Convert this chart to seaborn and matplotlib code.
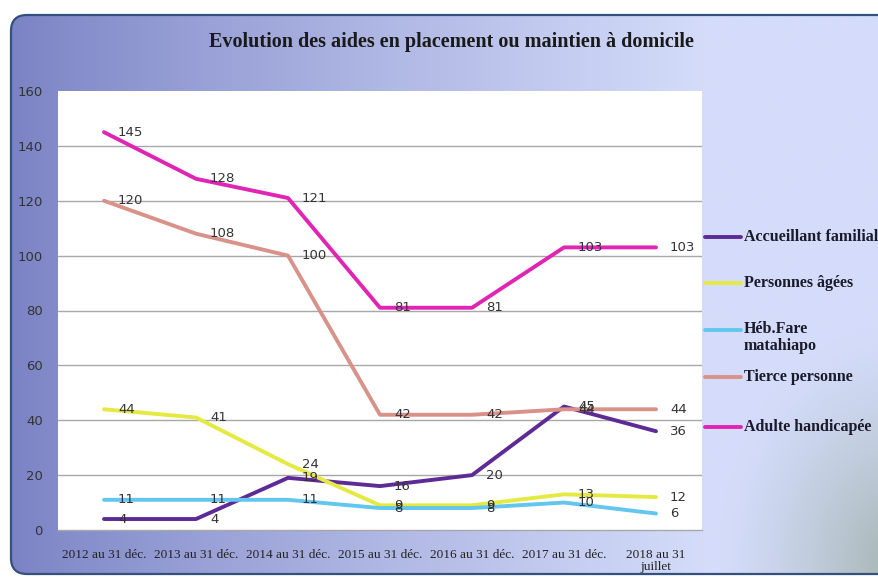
import numpy as np
import pandas as pd
import matplotlib
matplotlib.use("Agg")
import matplotlib.pyplot as plt
from matplotlib.patches import FancyBboxPatch
from matplotlib.lines import Line2D
import seaborn as sns

periods = ["2012 au 31 déc.", "2013 au 31 déc.", "2014 au 31 déc.",
           "2015 au 31 déc.", "2016 au 31 déc.", "2017 au 31 déc.",
           "2018 au 31\njuillet"]
series_names = ["Accueillant familial", "Personnes âgées", "Héb.Fare\nmatahiapo",
                "Tierce personne", "Adulte handicapée"]
accueillant = [4, 4, 19, 16, 20, 45, 36]
personnes_agees = [44, 41, 24, 9, 9, 13, 12]
heb_fare = [11, 11, 11, 8, 8, 10, 6]
tierce = [120, 108, 100, 42, 42, 44, 44]
adulte = [145, 128, 121, 81, 81, 103, 103]
y_ticks = [0, 20, 40, 60, 80, 100, 120, 140, 160]

colors = ["#5e2a96", "#e4ea42", "#62c6ee", "#d8928a", "#e024b4"]

values = [accueillant, personnes_agees, heb_fare, tierce, adulte]
df = pd.DataFrame({
    "periode": np.tile(np.arange(len(periods)), len(series_names)),
    "valeur": np.concatenate(values),
    "serie": np.repeat(series_names, len(periods)),
})

sns.set_theme(style="white")
plt.rcParams["font.family"] = ["DejaVu Sans"]

W, H = 879, 578
fig = plt.figure(figsize=(W / 100, H / 100), dpi=100)
fig.patch.set_facecolor("white")

# Background panel with a gradient fill and rounded border
bg = fig.add_axes([0, 0, 1, 1], zorder=0)
bg.set_xlim(0, W)
bg.set_ylim(H, 0)
bg.axis("off")
xx, yy = np.meshgrid(np.linspace(0, 1, 300), np.linspace(0, 1, 200))
left = np.array([122, 130, 196]) / 255
right = np.array([212, 220, 250]) / 255
t = np.clip(xx / 0.78, 0, 1) ** 0.85
img = left[None, None, :] * (1 - t[..., None]) + right[None, None, :] * t[..., None]
# darker greenish shade in the lower-right corner
d = np.sqrt(((xx - 1.0) / 0.2) ** 2 + ((yy - 0.98) / 0.42) ** 2)
w = np.clip(1 - d, 0, 1) ** 1.3 * 0.6
green = np.array([135, 155, 130]) / 255
img = img * (1 - w[..., None]) + green[None, None, :] * w[..., None]
img = np.clip(img, 0, 1)
im = bg.imshow(img, extent=[10, W + 20, 575, 14], aspect="auto", zorder=0)
frame = FancyBboxPatch((11, 15), W + 10, 559, boxstyle="round,pad=0,rounding_size=16",
                       fc="none", ec="#34507e", lw=1.6, zorder=2)
bg.add_patch(frame)
im.set_clip_path(frame)

# Plot area
x0, x1, y0, y1 = 58, 702, 91, 530
ax = fig.add_axes([x0 / W, 1 - y1 / H, (x1 - x0) / W, (y1 - y0) / H], zorder=1)
ax.set_facecolor("white")

sns.lineplot(data=df, x="periode", y="valeur", hue="serie", hue_order=series_names,
             palette=colors, linewidth=2.8, ax=ax, legend=False, zorder=3)

ax.set_xlim(-0.5, len(periods) - 0.5)
ax.set_ylim(0, 160)
ax.set_yticks(y_ticks)
for yv in y_ticks[1:-1]:
    ax.axhline(yv, color="#a8a8a8", lw=1.0, zorder=1)
for s in ["top", "right", "left"]:
    ax.spines[s].set_visible(False)
ax.spines["bottom"].set_color("#a8a8a8")
ax.spines["bottom"].set_linewidth(1.0)
ax.set_xticks(range(len(periods)))
ax.set_xticklabels(periods, fontfamily="Liberation Serif", fontsize=9.5, color="#222222",
                   linespacing=0.95)
ax.tick_params(axis="x", length=0, pad=14)
ax.tick_params(axis="y", length=0, pad=11, labelsize=9.5, labelcolor="#333333")
ax.set_xlabel("")
ax.set_ylabel("")

# Value labels next to each point
for vals in values:
    for i, v in enumerate(vals):
        ax.annotate(str(v), (i, v), xytext=(10, 0), textcoords="offset points",
                    ha="left", va="center", fontsize=9.5, color="#333333", zorder=4)

fig.text(451 / W, 1 - 42 / H,
         "Evolution des aides en placement ou maintien à domicile",
         ha="center", va="center", fontfamily="Liberation Serif", fontweight="bold",
         fontsize=14.5, color="#1a1a1a")

# Legend on the right: short line keys followed by bold serif labels
legend_y = [237, 283, 330, 377, 427]
for name, col, ly in zip(series_names, colors, legend_y):
    fig.add_artist(Line2D([705 / W, 741 / W], [1 - ly / H, 1 - ly / H],
                          color=col, lw=2.8, transform=fig.transFigure))
    multi = "\n" in name
    fig.text(744 / W, 1 - (ly - 9 if multi else ly) / H, name,
             ha="left", va="top" if multi else "center",
             fontfamily="Liberation Serif", fontweight="bold", fontsize=11.5,
             color="#1a1a2a", linespacing=1.05)

fig.savefig("out.png", dpi=100)
